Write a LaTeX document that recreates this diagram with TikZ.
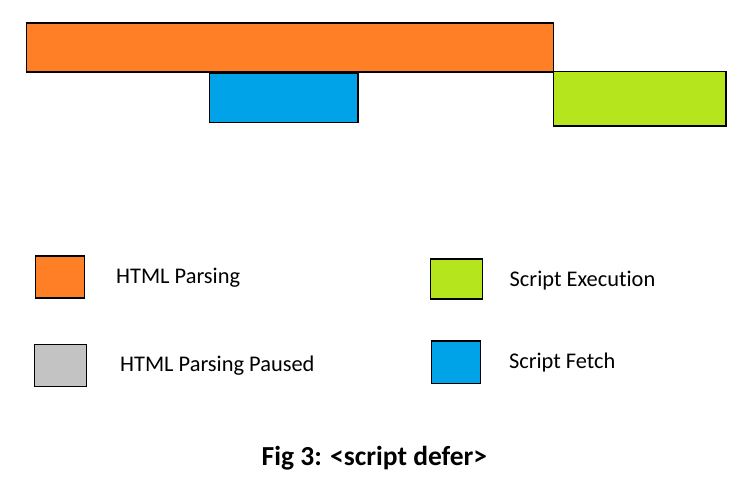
\documentclass[tikz,border=0pt]{standalone}
\usepackage{fontspec}
\setmainfont[Ligatures=NoCommon]{Carlito}
\definecolor{parseorange}{RGB}{255,127,39}
\definecolor{fetchblue}{RGB}{0,162,232}
\definecolor{execgreen}{RGB}{181,230,29}
\definecolor{pausegray}{RGB}{195,195,195}
\begin{document}
\begin{tikzpicture}[x=1pt,y=-1pt,
  bar/.style={draw=black,line width=1.4pt},
  lbl/.style={anchor=base west,inner sep=0pt,font=\fontsize{22.4}{25}\selectfont}]
\useasboundingbox (0,0) rectangle (753,493);
\fill[white] (0,0) rectangle (753,493);
% timeline bars
\draw[bar,fill=parseorange] (26.5,23) rectangle (553.5,72);
\draw[bar,fill=fetchblue] (209.5,73) rectangle (358,122.5);
\draw[bar,fill=execgreen] (553.5,71.5) rectangle (726,126);
% legend swatches
\draw[bar,fill=parseorange] (35.5,256) rectangle (84.5,298);
\draw[bar,fill=pausegray] (34.5,344.5) rectangle (86.5,386.5);
\draw[bar,fill=execgreen] (430.5,259) rectangle (482.5,299);
\draw[bar,fill=fetchblue] (431.5,341) rectangle (480.5,383.5);
% legend labels
\node[lbl] (l1) at (116,283.3) {HTML Parsing};
\node[lbl] (l2) at (120,371.7) {HTML Parsing Paused};
\node[lbl] (l3) at (509.5,286.7) {Script Execution};
\node[lbl] (l4) at (508.8,368) {Script Fetch};
% caption
\node[anchor=base west,inner sep=0pt,font=\bfseries\fontsize{27.5}{30}\selectfont] (cap) at (261.5,465) {Fig 3: <script defer>};
\end{tikzpicture}
\end{document}
